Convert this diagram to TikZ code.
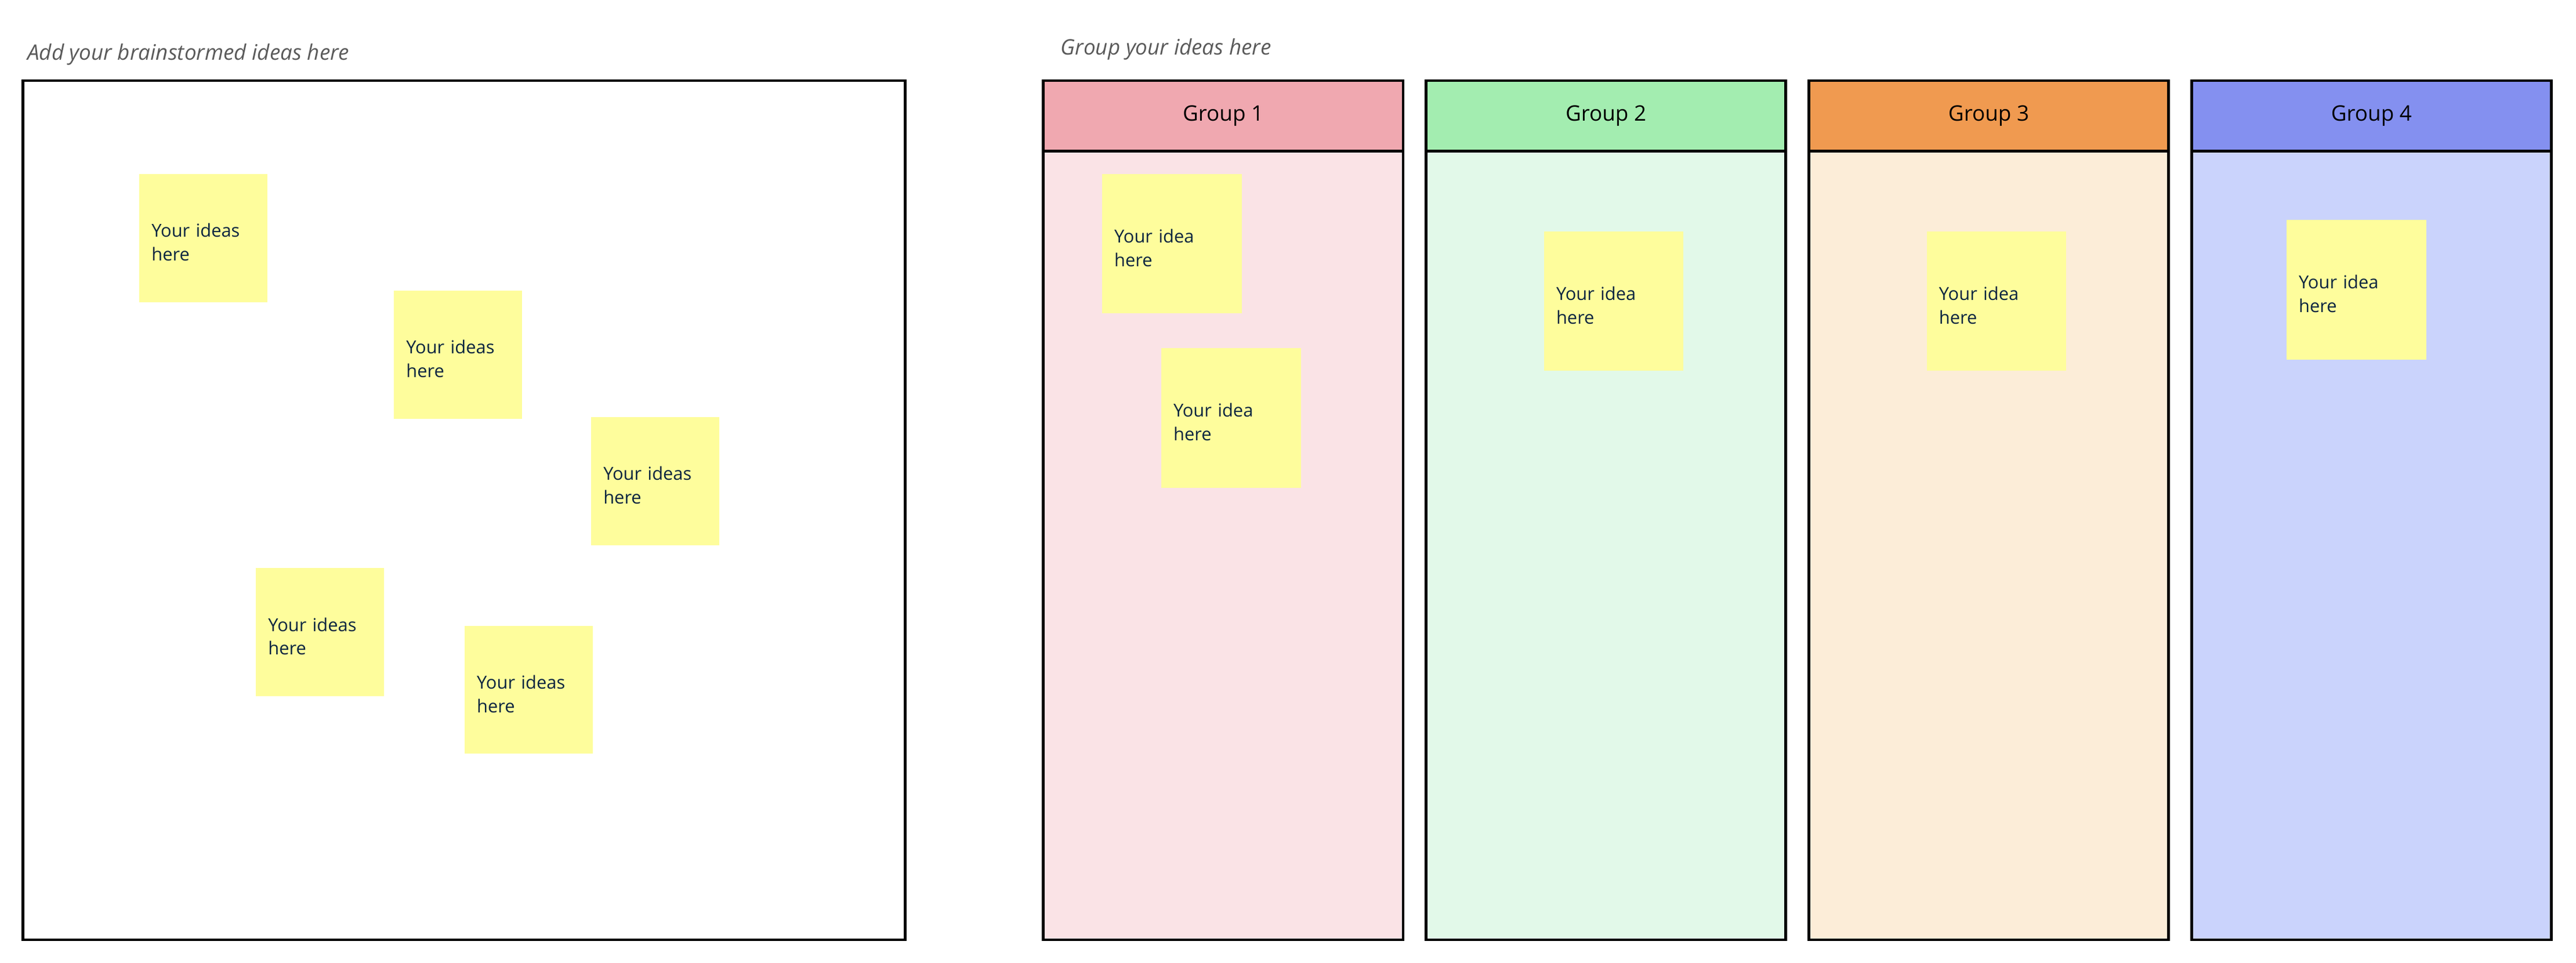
\documentclass[tikz,border=0pt]{standalone}
\usepackage{fontspec}
\setmainfont{Open Sans}
\definecolor{stickyyellow}{HTML}{FEFD9C}
\definecolor{stickytext}{HTML}{0A2540}
\definecolor{labelgray}{HTML}{5A5A5A}
\definecolor{headone}{HTML}{F0A8B0}
\definecolor{bodyone}{HTML}{FAE3E6}
\definecolor{headtwo}{HTML}{A3EDB0}
\definecolor{bodytwo}{HTML}{E2F9E9}
\definecolor{headthree}{HTML}{F09A50}
\definecolor{bodythree}{HTML}{FCEDD8}
\definecolor{headfour}{HTML}{8490F0}
\definecolor{bodyfour}{HTML}{CAD3FC}
\tikzset{
  sticky/.style={fill=stickyyellow, text=stickytext, anchor=north west, align=left,
    font=\fontsize{6.2}{8.2}\selectfont, inner sep=0pt, text width=#1},
  bigsticky/.style={sticky=1.56cm, minimum width=1.56cm, minimum height=1.56cm},
  smallsticky/.style={sticky=1.7cm, minimum width=1.7cm, minimum height=1.7cm},
  boardlabel/.style={anchor=west, text=labelgray, font=\fontsize{7.4}{9}\itshape},
  grouphead/.style={font=\fontsize{7.4}{9}\selectfont}
}
\begin{document}
\begin{tikzpicture}[x=0.02cm, y=-0.02cm, line width=0.9pt]
    \useasboundingbox (0,0) rectangle (1568,586);
    % brainstorm area
    \node[boardlabel] (addlabel) at (10,33) {Add your brainstormed ideas here};
    \draw (14,49) rectangle (551,572);
    \node[bigsticky] (ideaA) at (84,105) {\hspace*{0.15cm}\parbox[t]{1.3cm}{\vspace*{0.1cm}Your ideas\\here}};
    \node[bigsticky] (ideaB) at (239,176) {\hspace*{0.15cm}\parbox[t]{1.3cm}{\vspace*{0.1cm}Your ideas\\here}};
    \node[bigsticky] (ideaC) at (359,253) {\hspace*{0.15cm}\parbox[t]{1.3cm}{\vspace*{0.1cm}Your ideas\\here}};
    \node[bigsticky] (ideaD) at (155,345) {\hspace*{0.15cm}\parbox[t]{1.3cm}{\vspace*{0.1cm}Your ideas\\here}};
    \node[bigsticky] (ideaE) at (282,380) {\hspace*{0.15cm}\parbox[t]{1.3cm}{\vspace*{0.1cm}Your ideas\\here}};
    % group columns
    \node[boardlabel] (grouplabel) at (639,30) {Group your ideas here};
    \foreach \x/\n/\hc/\bc in {635/1/headone/bodyone, 868/2/headtwo/bodytwo, 1101/3/headthree/bodythree, 1334/4/headfour/bodyfour} {
        \draw[fill=\bc] (\x,92) rectangle ++(219,480);
        \draw[fill=\hc] (\x,49) rectangle ++(219,43);
        \node[grouphead] (head\n) at (\x+109.5,70.5) {Group \n};
    }
    \node[smallsticky] (groupA) at (670,105) {\hspace*{0.15cm}\parbox[t]{1.4cm}{\vspace*{0.1cm}Your idea\\here}};
    \node[smallsticky] (groupB) at (706,211) {\hspace*{0.15cm}\parbox[t]{1.4cm}{\vspace*{0.1cm}Your idea\\here}};
    \node[smallsticky] (groupC) at (939,140) {\hspace*{0.15cm}\parbox[t]{1.4cm}{\vspace*{0.1cm}Your idea\\here}};
    \node[smallsticky] (groupD) at (1172,140) {\hspace*{0.15cm}\parbox[t]{1.4cm}{\vspace*{0.1cm}Your idea\\here}};
    \node[smallsticky] (groupE) at (1391,133) {\hspace*{0.15cm}\parbox[t]{1.4cm}{\vspace*{0.1cm}Your idea\\here}};
\end{tikzpicture}
\end{document}
